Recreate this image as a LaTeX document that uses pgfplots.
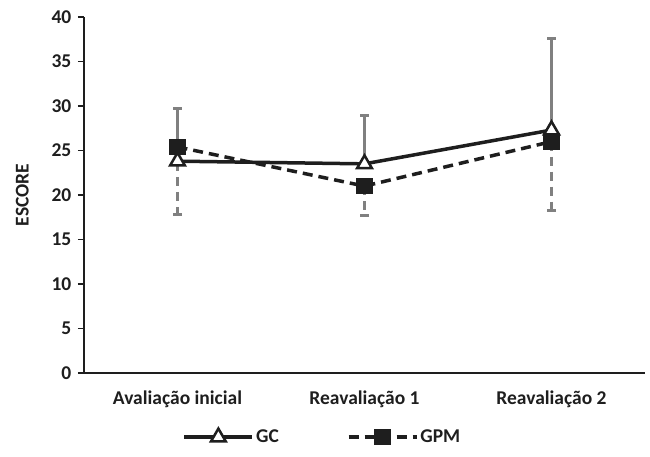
\documentclass[border=0pt]{standalone}
\usepackage{fontspec}
\setmainfont{Carlito}
\usepackage{pgfplots}
\pgfplotsset{compat=1.18}
\definecolor{ebar}{RGB}{128,128,128}
\definecolor{ln}{RGB}{30,30,30}
\newcommand{\ff}{\fontsize{19.5}{23}\selectfont\bfseries}
\begin{document}
\ff
\begin{tikzpicture}[x=1pt,y=1pt]
\path[use as bounding box] (0,0) rectangle (650,456);
\begin{axis}[
  at={(84pt,83pt)}, anchor=south west,
  scale only axis, width=561pt, height=356pt,
  xmin=0, xmax=3, ymin=0, ymax=40,
  axis lines*=left,
  axis line style={ln, line width=1.3pt},
  xtick={0.5,1.5,2.5},
  xticklabels={Avaliação inicial,Reavaliação 1,Reavaliação 2},
  x tick style={draw=none},
  ytick={0,5,...,40},
  y tick style={ln, line width=1.3pt},
  tick align=outside, major tick length=6pt,
  /pgf/number format/assume math mode=true,
  ticklabel style={font=\ff, text=ln},
  xticklabel style={yshift=-5pt},
  ylabel={ESCORE},
  ylabel style={at={(axis description cs:-0.11,0.5)}, anchor=center, font=\ff, text=ln},
  legend columns=2,
  legend style={draw=none, fill=none, at={(axis description cs:0.425,-0.18)}, anchor=center,
    font=\ff, text=ln,
    /tikz/every even column/.append style={column sep=66pt}},
  legend image code/.code={\draw[mark repeat=2,mark phase=2,#1] plot coordinates {(0pt,0pt) (34pt,0pt) (68pt,0pt)};},
  clip=false,
]
\addplot[ln, line width=3.5pt, solid, mark=triangle*, mark size=8.5pt,
  mark options={fill=white, draw=ln, line width=2.5pt, solid},
  error bars/.cd, y dir=plus, y explicit,
  error bar style={ebar, line width=3.2pt, solid},
  error mark options={rotate=90, mark size=4.5pt, ebar, line width=3.2pt}]
  coordinates {(0.5,23.8) +- (0,5.9) (1.5,23.5) +- (0,5.4) (2.5,27.3) +- (0,10.3)};
\addlegendentry{GC}
\addplot[ln, line width=3.5pt, dash pattern=on 10pt off 6pt, mark=square*, mark size=6.5pt,
  mark options={fill=ln, draw=ln, solid},
  error bars/.cd, y dir=minus, y explicit,
  error bar style={ebar, line width=3.2pt, dash pattern=on 9pt off 6pt},
  error mark options={rotate=90, mark size=4.5pt, ebar, line width=3.2pt, solid}]
  coordinates {(0.5,25.4) +- (0,7.6) (1.5,21.0) +- (0,3.3) (2.5,26.0) +- (0,7.7)};
\addlegendentry{GPM}
\end{axis}
\end{tikzpicture}
\end{document}
